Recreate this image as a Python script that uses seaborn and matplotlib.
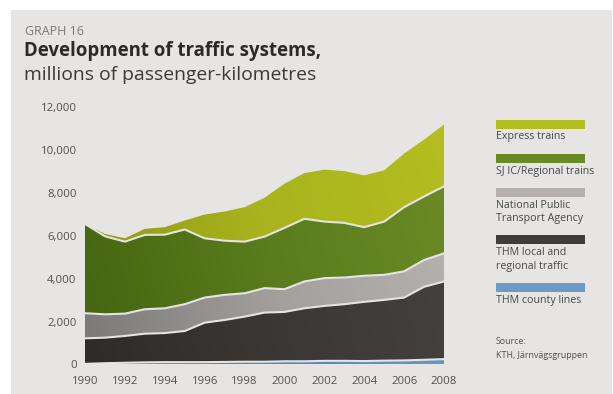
import numpy as np
import matplotlib
matplotlib.use("Agg")
import matplotlib.pyplot as plt
from matplotlib.patches import Rectangle, PathPatch
import seaborn as sns

# Passenger-kilometres (millions) per traffic system, 1990-2008
years = list(range(1990, 2009))
county_lines = [30, 60, 80, 100, 110, 110, 110, 120, 130, 130, 150, 150, 170, 170, 160, 180, 190, 220, 250]
local_regional = [1190, 1190, 1250, 1335, 1355, 1450, 1840, 1955, 2100, 2290, 2300, 2470, 2560, 2640, 2760, 2830, 2930, 3400, 3620]
public_agency = [1170, 1090, 1040, 1140, 1155, 1250, 1170, 1170, 1090, 1140, 1060, 1250, 1295, 1245, 1215, 1170, 1220, 1250, 1310]
sj_regional = [4160, 3635, 3355, 3465, 3430, 3480, 2760, 2525, 2405, 2400, 2855, 2920, 2635, 2545, 2265, 2480, 2990, 2960, 3120]
express = [0, 110, 155, 280, 350, 420, 1110, 1360, 1605, 1810, 2060, 2130, 2420, 2415, 2415, 2390, 2500, 2650, 2885]

series_labels = ["THM county lines", "THM local and\nregional traffic",
                 "National Public\nTransport Agency", "SJ IC/Regional trains",
                 "Express trains"]
y_ticks = [0, 2000, 4000, 6000, 8000, 10000, 12000]
x_ticks = list(range(1990, 2009, 2))

# left-to-right shading for each layer, plus the flat legend swatch colour
shades = [
    (["#4a77a6", "#5b8aba", "#6c9ccb"], "#6a9ac8"),
    (["#2e2b29", "#3b3835", "#46423f"], "#403c39"),
    (["#7b7978", "#a3a09e", "#b7b3b1"], "#b5b1af"),
    (["#45640f", "#5a7c1d", "#6c8b26"], "#6a8a25"),
    (["#8c9516", "#a9b31d", "#b4be20"], "#b2bd1f"),
]

sns.set_theme(style="white")
plt.rcParams["font.family"] = ["Open Sans", "DejaVu Sans"]

W, H = 613, 394
fig = plt.figure(figsize=(W / 100, H / 100), dpi=100, facecolor="white")

# full-figure layer in pixel units for panel, titles and legend
bg = fig.add_axes([0, 0, 1, 1], zorder=0)
bg.set_xlim(0, W)
bg.set_ylim(H, 0)
bg.axis("off")
bg.add_patch(Rectangle((11, 10), W - 12, H - 10, color="#e6e5e3", lw=0))

bg.text(25, 31, "GRAPH 16", fontsize=9.0, color="#7a7a7a", va="center", ha="left")
bg.text(24, 51, "Development of traffic systems,", fontsize=13.4, fontweight="bold",
        color="#2a2a2a", va="center", ha="left")
bg.text(24, 75, "millions of passenger-kilometres", fontsize=13.9, color="#3a3a3a",
        va="center", ha="left")

# plotting area
x0, x1 = 85, 444
y0, y1 = 364.5, 107
ax = fig.add_axes([x0 / W, (H - y0) / H, (x1 - x0) / W, (y0 - y1) / H], zorder=1)
ax.patch.set_visible(False)

layers = [county_lines, local_regional, public_agency, sj_regional, express]
polys = ax.stackplot(years, *layers, colors=["none"] * 5, linewidth=0)

ax.set_xlim(1990, 2008)
ax.set_ylim(0, 12000)

gx = np.linspace(0, 1, 256)
gy = np.linspace(0, 1, 64)
GX, GY = np.meshgrid(gx, gy)
grad = np.clip(0.85 * GX + 0.15 * GY, 0, 1)
for poly, (stops, _) in zip(polys, shades):
    cmap = sns.blend_palette(stops, as_cmap=True)
    im = ax.imshow(grad, cmap=cmap, vmin=0, vmax=1, origin="lower", aspect="auto",
                   extent=[1990, 2008, 0, 12000], interpolation="bilinear", zorder=2)
    clip = PathPatch(poly.get_paths()[0], transform=ax.transData,
                     facecolor="none", edgecolor="none")
    ax.add_patch(clip)
    im.set_clip_path(clip)

# light separators along the tops of the lower four layers
cum = np.cumsum(np.array(layers[:4]), axis=0)
for top in cum:
    ax.plot(years, top, color="#e4e4e2", lw=1.5, zorder=3, solid_joinstyle="round")

ax.set_xticks(x_ticks)
ax.set_xticklabels([str(v) for v in x_ticks])
ax.set_yticks(y_ticks)
ax.set_yticklabels([f"{v:,}" for v in y_ticks])
ax.tick_params(axis="both", length=0, labelsize=8.2, labelcolor="#505050")
ax.tick_params(axis="y", pad=6)
ax.tick_params(axis="x", pad=8)
for s in ax.spines.values():
    s.set_visible(False)
ax.grid(False)

# legend
legend_rows = [
    (4, 120, [137]),
    (3, 154, [171]),
    (2, 188, [205, 218]),
    (1, 235, [252, 266]),
    (0, 283, [300]),
]
for idx, ytop, text_ys in legend_rows:
    bg.add_patch(Rectangle((496, ytop), 89, 9, color=shades[idx][1], lw=0))
    for line, ty in zip(series_labels[idx].split("\n"), text_ys):
        bg.text(496, ty, line, fontsize=7.7, color="#474747", va="center", ha="left")

bg.text(496, 342, "Source:", fontsize=6.4, color="#505050", va="center", ha="left")
bg.text(496, 356, "KTH, Järnvägsgruppen", fontsize=6.4, color="#505050", va="center", ha="left")

fig.savefig("out.png", dpi=100, facecolor="white")
